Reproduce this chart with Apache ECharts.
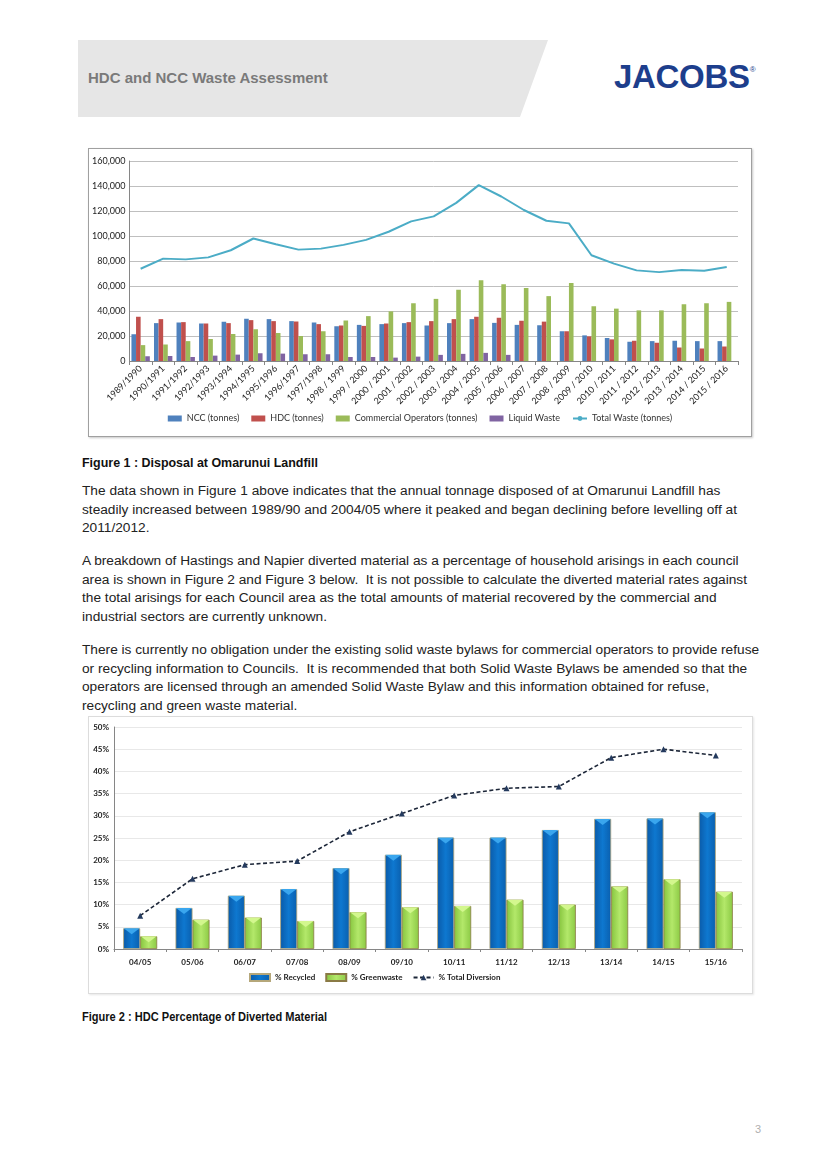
<!DOCTYPE html>
<html>
<head>
<meta charset="utf-8">
<script src="https://cdn.jsdelivr.net/npm/echarts@6/dist/echarts.min.js"></script>
<style>
  html, body { margin:0; padding:0; background:#fff; }
  body { width:820px; height:1162px; position:relative; overflow:hidden; font-family:"Liberation Sans", Arial, sans-serif; }
  #hdr { position:absolute; left:78px; top:40px; width:470px; height:77px; background:#e6e6e6;
         clip-path: polygon(0 0, 100% 0, calc(100% - 28px) 100%, 0 100%); }
  #hdrtxt { position:absolute; left:88px; top:69px; font-size:15px; font-weight:bold; color:#7a7a7a; white-space:nowrap; }
  #logo { position:absolute; left:614px; top:58px; font-size:33px; font-weight:900; color:#1d3e8c; letter-spacing:-0.3px; white-space:nowrap; font-family:"Liberation Sans", Arial, sans-serif; }
  #logo sup { font-size:8px; font-weight:normal; vertical-align:top; position:relative; top:7px; letter-spacing:0; }
  #c1 { position:absolute; left:88px; top:148px; width:662px; height:287px; border:1px solid #a0a0a0; box-shadow:1px 1px 2px #c8c8c8; }
  #c2 { position:absolute; left:88px; top:716px; width:663px; height:276px; border:1px solid #dcdcdc; box-shadow:1px 1px 2px #e6e6e6; }
  .cap { position:absolute; left:82px; font-family:"Liberation Sans", Arial, sans-serif; font-weight:bold; font-size:13px; color:#111; white-space:nowrap; transform-origin:0 0; }
  .para { position:absolute; left:82px; font-size:13.7px; line-height:18.6px; color:#222; white-space:nowrap; }
  #pg { position:absolute; left:755px; top:1123px; font-size:11px; color:#b0b0b0; }
</style>
</head>
<body>
<div id="hdr"></div>
<div id="hdrtxt">HDC and NCC Waste Assessment</div>
<div id="logo">JACOBS<sup>®</sup></div>

<div id="c1"></div>
<div class="cap" id="cap1" data-w="236" style="top:455px;">Figure 1 : Disposal at Omarunui Landfill</div>

<div class="para" style="top:482px;">The data shown in Figure 1 above indicates that the annual tonnage disposed of at Omarunui Landfill has<br>steadily increased between 1989/90 and 2004/05 where it peaked and began declining before levelling off at<br>2011/2012.</div>
<div class="para" style="top:552px;">A breakdown of Hastings and Napier diverted material as a percentage of household arisings in each council<br>area is shown in Figure 2 and Figure 3 below.&nbsp; It is not possible to calculate the diverted material rates against<br>the total arisings for each Council area as the total amounts of material recovered by the commercial and<br>industrial sectors are currently unknown.</div>
<div class="para" style="top:641px;">There is currently no obligation under the existing solid waste bylaws for commercial operators to provide refuse<br>or recycling information to Councils.&nbsp; It is recommended that both Solid Waste Bylaws be amended so that the<br>operators are licensed through an amended Solid Waste Bylaw and this information obtained for refuse,<br>recycling and green waste material.</div>

<div id="c2"></div>
<div class="cap" id="cap2" data-w="245" style="top:1009px;">Figure 2 : HDC Percentage of Diverted Material</div>
<div id="pg">3</div>

<script>
// ---------- Figure 1 data ----------
var years = ["1989/1990","1990/1991","1991/1992","1992/1993","1993/1994","1994/1995","1995/1996","1996/1997","1997/1998","1998 / 1999","1999 / 2000","2000 / 2001","2001 / 2002","2002 / 2003","2003 / 2004","2004 / 2005","2005 / 2006","2006 / 2007","2007 / 2008","2008 / 2009","2009 / 2010","2010 / 2011","2011 / 2012","2012 / 2013","2013 / 2014","2014 / 2015","2015 / 2016"];
var nccTonnes = [21400,30300,30800,30000,31400,33800,33500,31900,30800,27800,28900,29500,30300,28400,30300,33500,30500,28900,28600,23800,20500,18400,15400,15900,16200,15900,15900];
var hdcTonnes = [35400,33500,31100,30000,30300,32700,31900,31600,29500,28400,28100,30000,31100,31900,33500,35400,34600,32200,31500,23800,19700,17300,16200,14600,10800,10000,11600];
var commercialTonnes = [12700,13200,15900,17600,21600,25400,22400,20000,23800,32400,35900,39700,46200,49700,57000,64600,61400,58400,51900,62400,43800,41900,40500,40500,45400,46200,47300];
var liquidWaste = [3800,4000,3200,4300,5100,6200,5900,5400,5400,3200,3200,2700,3500,4900,5700,6500,4900,null,null,null,null,null,null,null,null,null,null];
var totalWaste = [73800,81900,81300,82900,88600,98000,93400,89100,89900,92900,96900,103400,111700,115700,126500,140700,131600,120800,112200,110100,84600,77900,72500,71100,72800,72200,75200];

// ---------- Figure 2 data ----------
var seasons = ["04/05","05/06","06/07","07/08","08/09","09/10","10/11","11/12","12/13","13/14","14/15","15/16"];
var pctRecycled = [4.66,9.25,12.0,13.5,18.2,21.2,25.1,25.1,26.8,29.3,29.4,30.8];
var pctGreenwaste = [2.86,6.6,7.07,6.3,8.3,9.4,9.7,11.1,10.0,14.1,15.7,12.9];
var pctTotalDiversion = [7.5,15.8,19.0,19.8,26.4,30.5,34.6,36.2,36.6,43.1,45.0,43.6];

// fit captions (condensed bold look)
['cap1','cap2'].forEach(function(id){
  var el = document.getElementById(id);
  var w = el.getBoundingClientRect().width;
  el.style.transform = 'scaleX(' + (parseFloat(el.getAttribute('data-w')) / w) + ')';
});

var f1 = 'Lato, "Open Sans", sans-serif';

var c1 = echarts.init(document.getElementById('c1'), null, {renderer:'canvas'});
c1.setOption({
  animation:false,
  grid:{left:33, right:13, top:12, bottom:75},
  legend:{
    bottom:8, left:'center', itemWidth:14, itemHeight:6, itemGap:12,
    textStyle:{fontFamily:f1, fontSize:9, color:'#333'},
    data:[
      {name:'NCC (tonnes)', icon:'rect'},
      {name:'HDC (tonnes)', icon:'rect'},
      {name:'Commercial Operators (tonnes)', icon:'rect'},
      {name:'Liquid Waste', icon:'rect'},
      {name:'Total Waste (tonnes)'}
    ]
  },
  xAxis:{
    type:'category', data:years, boundaryGap:true,
    axisLine:{lineStyle:{color:'#868686'}},
    axisTick:{show:true, lineStyle:{color:'#868686'}, length:4},
    axisLabel:{rotate:45, fontFamily:f1, fontSize:9, color:'#222', interval:0, margin:6}
  },
  yAxis:{
    type:'value', min:0, max:160000, interval:20000,
    axisLine:{show:true, lineStyle:{color:'#868686'}},
    axisTick:{show:false},
    splitLine:{lineStyle:{color:'#bfbfbf'}},
    axisLabel:{fontFamily:f1, fontSize:9, color:'#222', margin:4,
      formatter:function(v){ return v===0 ? '0' : v.toString().replace(/\B(?=(\d{3})+(?!\d))/g, ','); }}
  },
  series:[
    {name:'NCC (tonnes)', type:'bar', data:nccTonnes, barWidth:4.6, barGap:'0%', itemStyle:{color:'#4f81bd'}},
    {name:'HDC (tonnes)', type:'bar', data:hdcTonnes, barWidth:4.6, barGap:'0%', itemStyle:{color:'#c0504d'}},
    {name:'Commercial Operators (tonnes)', type:'bar', data:commercialTonnes, barWidth:4.6, barGap:'0%', itemStyle:{color:'#9bbb59'}},
    {name:'Liquid Waste', type:'bar', data:liquidWaste, barWidth:4.6, barGap:'0%', itemStyle:{color:'#8064a2'}},
    {name:'Total Waste (tonnes)', type:'line', data:totalWaste, symbol:'none', lineStyle:{color:'#4bacc6', width:2}, itemStyle:{color:'#4bacc6'}}
  ]
});

var f2 = 'Lato, "Open Sans", sans-serif';
var c2 = echarts.init(document.getElementById('c2'), null, {renderer:'canvas'});
function hgrad(a,b,c){ return new echarts.graphic.LinearGradient(0,0,1,0,[{offset:0,color:a},{offset:0.5,color:b},{offset:1,color:c}]); }
var vTri = 'path://M0,0 L10,0 L5,6 Z';
c2.setOption({
  animation:false,
  grid:{left:25, right:10, top:10, bottom:44},
  legend:{
    bottom:6, left:155, itemWidth:20, itemHeight:7, itemGap:10,
    textStyle:{fontFamily:f2, fontSize:8, fontWeight:'bold', color:'#222'},
    data:[
      {name:'% Recycled', icon:'rect'},
      {name:'% Greenwaste', icon:'rect'},
      {name:'% Total Diversion'}
    ]
  },
  xAxis:{
    type:'category', data:seasons,
    axisLine:{lineStyle:{color:'#868686'}},
    axisTick:{show:true, lineStyle:{color:'#868686'}, length:3},
    axisLabel:{fontFamily:f2, fontSize:8, fontWeight:'bold', color:'#222', margin:9}
  },
  yAxis:{
    type:'value', min:0, max:50, interval:5,
    axisLine:{show:true, lineStyle:{color:'#868686'}},
    axisTick:{show:false},
    splitLine:{lineStyle:{color:'#e8e8e8'}},
    axisLabel:{fontFamily:f2, fontSize:8, fontWeight:'bold', color:'#222', margin:5, formatter:'{value}%'}
  },
  series:[
    {name:'% Recycled', type:'bar', data:pctRecycled, barWidth:17, barGap:'0%',
      itemStyle:{color:hgrad('#0a5aa8','#0e78d0','#0a5fae'), borderColor:'#b5a77a', borderWidth:0.8}},
    {name:'% Greenwaste', type:'bar', data:pctGreenwaste, barWidth:17, barGap:'0%',
      itemStyle:{color:hgrad('#86c43e','#b3e86a','#8bc944'), borderColor:'#8a7a45', borderWidth:0.8}},
    {name:'recTop', type:'pictorialBar', data:pctRecycled, barWidth:17, barGap:'0%', z:3,
      symbol:vTri, symbolSize:[16,6], symbolPosition:'end', symbolOffset:[0,0], itemStyle:{color:'#3aa6ee'}, silent:true},
    {name:'grnTop', type:'pictorialBar', data:pctGreenwaste, barWidth:17, barGap:'0%', z:3,
      symbol:vTri, symbolSize:[16,6], symbolPosition:'end', symbolOffset:[0,0], itemStyle:{color:'#d3f78e'}, silent:true},
    {name:'% Total Diversion', type:'line', data:pctTotalDiversion, symbol:'triangle', symbolSize:6, z:4,
      lineStyle:{color:'#1c2638', width:1.6, type:[4,2.5]}, itemStyle:{color:'#243a5e'}}
  ]
});
</script>
</body>
</html>
